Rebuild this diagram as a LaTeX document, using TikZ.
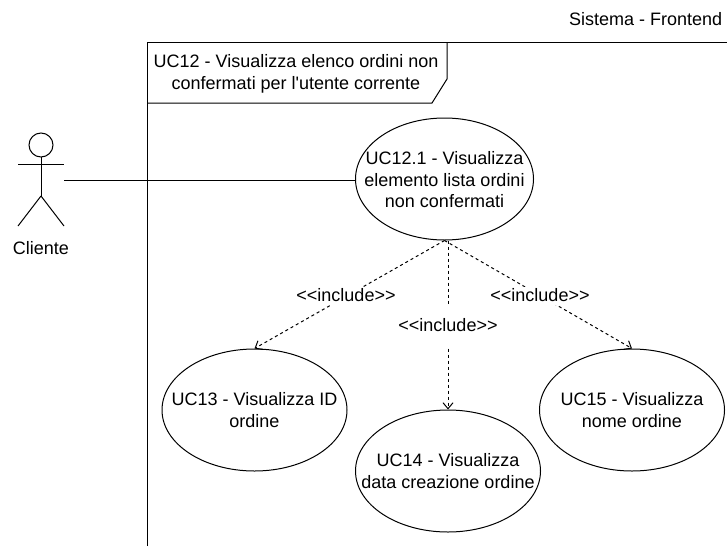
\documentclass[tikz,border=0pt]{standalone}
\usepackage{fontspec}
\setmainfont{Liberation Sans}
\usetikzlibrary{arrows.meta,shapes.geometric}
\tikzset{
  usecase/.style={draw,ellipse,inner sep=0pt,minimum width=185pt,minimum height=122pt},
  includeline/.style={draw,dashed,-{Straight Barb[length=6pt,width=10pt]}},
  includelabel/.style={fill=white,inner sep=1pt,text depth=3pt,font=\fontsize{18pt}{21.5pt}\selectfont},
  plain/.style={font=\fontsize{18pt}{21.5pt}\selectfont,align=center}
}
\begin{document}
\begin{tikzpicture}[x=1pt,y=-1pt,line width=1pt]
  \useasboundingbox (0,0) rectangle (727,546);
  % boundary
  \draw (147,546)--(147,42)--(727,42);
  \draw (447,42)--(447,79)--(432,103)--(147,103);
  \node [plain] (title) at (296,74) {UC12 - Visualizza elenco ordini non\\confermati per l\textquotesingle utente corrente};
  \node [plain,anchor=east] (system) at (726,19) {Sistema - Frontend};
  % actor
  \draw (41,145) circle (12);
  \draw (41,157)--(41,196);
  \draw (18,164)--(64,164);
  \draw (41,196)--(18,226);
  \draw (41,196)--(64,226);
  \coordinate (actor) at (64,180);
  \node [plain] (cliente) at (41,248) {Cliente};
  % cases
  \node [usecase,minimum width=178pt] (uc121) at (444.5,179) {};
  \node [usecase] (uc13) at (254.5,410) {};
  \node [usecase] (uc14) at (448,471) {};
  \node [usecase] (uc15) at (632,410) {};
  \node [plain] (uc121text) at (444.5,180) {UC12.1 - Visualizza\\elemento lista ordini\\non confermati};
  \node [plain] (uc13text) at (uc13) {UC13 - Visualizza ID\\ordine};
  \node [plain] (uc14text) at (uc14) {UC14 - Visualizza\\data creazione ordine};
  \node [plain] (uc15text) at (uc15) {UC15 - Visualizza\\nome ordine};
  % links
  \draw (actor)--(uc121.west |- actor);
  \draw [includeline] (uc121.south)--(uc13.north);
  \draw [includeline] (uc14.north |- uc121.south)--(uc14.north);
  \draw [includeline] (uc121.south)--(uc15.north);
  \node [includelabel] (inc13) at (346,296) {<{}<include>{}>};
  \node [includelabel,minimum height=44pt] (inc14) at (448,326) {<{}<include>{}>};
  \node [includelabel] (inc15) at (540,296) {<{}<include>{}>};
\end{tikzpicture}
\end{document}
